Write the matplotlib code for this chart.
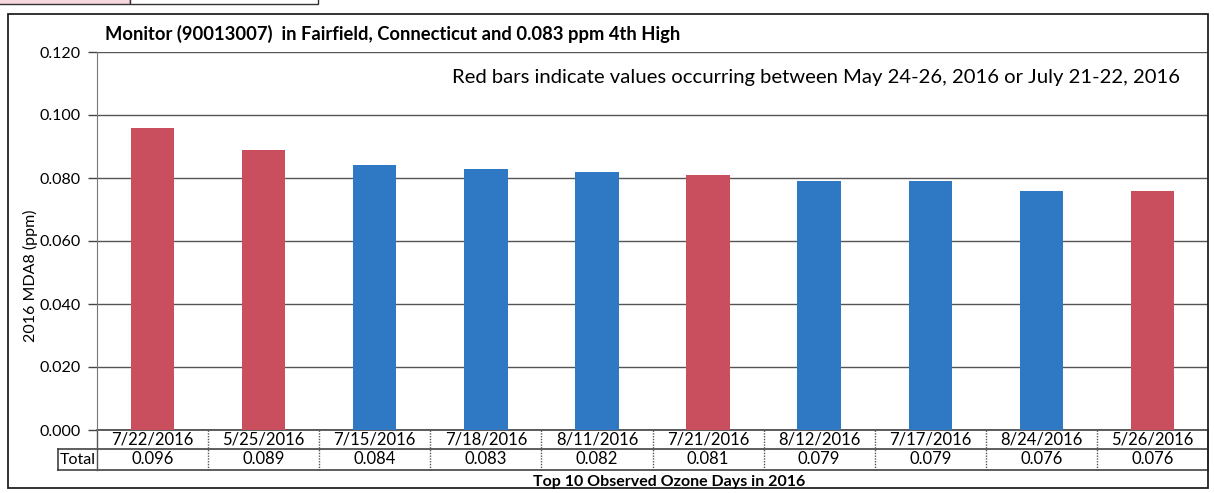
import matplotlib
matplotlib.use("Agg")
import matplotlib.pyplot as plt
from matplotlib.patches import Rectangle
from matplotlib.lines import Line2D

plt.rcParams['font.family'] = ['Lato', 'DejaVu Sans']

dates = ["7/22/2016", "5/25/2016", "7/15/2016", "7/18/2016", "8/11/2016",
         "7/21/2016", "8/12/2016", "7/17/2016", "8/24/2016", "5/26/2016"]
values = [0.096, 0.089, 0.084, 0.083, 0.082, 0.081, 0.079, 0.079, 0.076, 0.076]
in_episode = [True, True, False, False, False, True, False, False, False, True]
yticks = [0.000, 0.020, 0.040, 0.060, 0.080, 0.100, 0.120]

RED = "#C94F5E"
BLUE = "#2F78C4"

W, H = 1214, 493
fig = plt.figure(figsize=(W / 100, H / 100), dpi=100)

def px(x0, y0):
    return x0 / W, 1 - y0 / H

# page frame and header fragment
fig.patches.append(Rectangle(px(8, 488), 1200 / W, 474 / H, transform=fig.transFigure,
                             fill=False, edgecolor="#222222", lw=1.3))
fig.patches.append(Rectangle(px(-2, 4), 132 / W, 8 / H, transform=fig.transFigure,
                             facecolor="#F6D8DE", edgecolor="#333333", lw=1.0))
fig.patches.append(Rectangle(px(130, 4), 188 / W, 8 / H, transform=fig.transFigure,
                             facecolor="white", edgecolor="#333333", lw=1.0))

left, right, top, bottom = 97, 1208, 52, 430
ax = fig.add_axes([left / W, 1 - bottom / H, (right - left) / W, (bottom - top) / H])

x = list(range(len(dates)))
colors = [RED if f else BLUE for f in in_episode]
ax.bar(x, values, width=0.39, color=colors, zorder=3)

ax.set_xlim(-0.5, len(dates) - 0.5)
ax.set_ylim(0, 0.12)
ax.set_yticks(yticks)
ax.set_yticklabels([f"{v:.3f}" for v in yticks], fontsize=11.5)
ax.tick_params(axis='y', length=6.5, width=1, color="#444444", pad=5)
ax.set_xticks([])
ax.grid(axis='y', color="#555555", lw=1.0, zorder=0)
for s in ["top", "right", "bottom"]:
    ax.spines[s].set_visible(False)
ax.spines["left"].set_color("#777777")
ax.spines["left"].set_linestyle((0, (1, 1)))
ax.set_axisbelow(True)

ax.set_ylabel("2016 MDA8 (ppm)", fontsize=11.5)
ax.yaxis.set_label_coords(-0.053, 0.407)

# data table beneath the axis
tr = ax.get_xaxis_transform()
row1 = -19 / 378
row2 = -40 / 378
x0, x1 = -0.5, len(dates) - 0.5
xt = -0.5 - 39 / 111.1
lk = dict(transform=tr, clip_on=False, color="#333333", lw=1.1)
ax.add_line(Line2D([x0, x1], [0, 0], **lk))
ax.add_line(Line2D([xt, x1], [row1, row1], **lk))
ax.add_line(Line2D([xt, x1], [row2, row2], **lk))
ax.add_line(Line2D([xt, xt], [row1, row2], **lk))
ax.add_line(Line2D([x1, x1], [0, row2], **lk))
for i in range(len(dates)):
    ax.add_line(Line2D([i - 0.5, i - 0.5], [0, row2], transform=tr, clip_on=False,
                       color="#555555", lw=1.0, ls=(0, (1, 1)) if i > 0 else "-"))
for i, (d, v) in enumerate(zip(dates, values)):
    ax.text(i, row1 / 2, d, transform=tr, ha="center", va="center", fontsize=12,
            clip_on=False)
    ax.text(i, (row1 + row2) / 2, f"{v:.3f}", transform=tr, ha="center", va="center",
            fontsize=12, clip_on=False)
ax.text((xt + x0) / 2, (row1 + row2) / 2, "Total", transform=tr, ha="center",
        va="center", fontsize=11.5, clip_on=False)

fig.text(669 / W, 1 - 482 / H, "Top 10 Observed Ozone Days in 2016", ha="center",
         va="center", fontsize=11.5, fontweight="bold")
fig.text(105 / W, 1 - 34 / H, "Monitor (90013007)  in Fairfield, Connecticut and 0.083 ppm 4th High",
         ha="left", va="center", fontsize=13.2, fontweight="bold")
fig.text(452 / W, 1 - 78 / H,
         "Red bars indicate values occurring between May 24-26, 2016 or July 21-22, 2016",
         ha="left", va="center", fontsize=14.6)

fig.savefig("out.png", dpi=100)
